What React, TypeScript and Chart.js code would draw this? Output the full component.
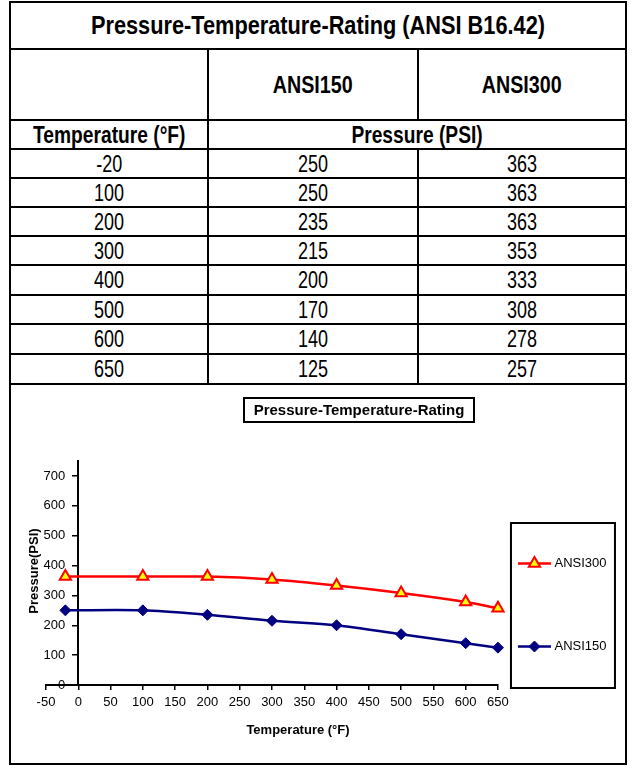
import React, { useEffect, useRef } from 'react';
import { Chart, registerables } from 'chart.js';
import { drawPoint } from 'chart.js/helpers';

Chart.register(...registerables);

// ---- data ----
const TEMPERATURES = [-20, 100, 200, 300, 400, 500, 600, 650];
const ANSI150 = [250, 250, 235, 215, 200, 170, 140, 125];
const ANSI300 = [363, 363, 363, 353, 333, 308, 278, 257];
const SERIES_NAMES = ['ANSI150', 'ANSI300'];
const TABLE_TITLE = 'Pressure-Temperature-Rating (ANSI B16.42)';
const TEMP_HEADER = 'Temperature (°F)';
const PRESSURE_HEADER = 'Pressure (PSI)';
const CHART_TITLE = 'Pressure-Temperature-Rating';
const X_TITLE = 'Temperature (°F)';
const Y_TITLE = 'Pressure(PSI)';
const X_MIN = -50;
const X_MAX = 650;
const X_STEP = 50;
const Y_MIN = 0;
const Y_MAX = 750;
const Y_LABEL_MAX = 700;
const Y_STEP = 100;

const SANS = "'Liberation Sans', Arial, Helvetica, sans-serif";

const legendDecor = {
  id: 'legendDecor',
  afterDraw(chart: any) {
    const lg = chart.legend;
    if (!lg || !lg.legendHitBoxes || !lg.legendHitBoxes.length) return;
    const ctx = chart.ctx;
    const hb = lg.legendHitBoxes;
    const x0 = lg.left;
    ctx.save();
    lg.legendItems.forEach((item: any, i: number) => {
      const box = hb[i];
      const ds = chart.data.datasets[item.datasetIndex];
      const cy = box.top + box.height / 2;
      ctx.strokeStyle = ds.borderColor;
      ctx.lineWidth = ds.borderWidth;
      ctx.beginPath();
      ctx.moveTo(x0 + 20, cy);
      ctx.lineTo(x0 + 53, cy);
      ctx.stroke();
      ctx.fillStyle = ds.pointBackgroundColor;
      ctx.strokeStyle = ds.pointBorderColor;
      ctx.lineWidth = ds.pointBorderWidth;
      drawPoint(ctx, { pointStyle: ds.pointStyle, radius: ds.pointRadius, rotation: 0, borderWidth: ds.pointBorderWidth }, x0 + 36.5, cy);
    });
    const first = hb[0];
    ctx.strokeStyle = '#000';
    ctx.lineWidth = 2;
    ctx.strokeRect(x0 + 13, first.top + 4, 104, 165);
    ctx.restore();
  },
};

function ChartBlock() {
  const canvasRef = useRef<HTMLCanvasElement>(null);
  useEffect(() => {
    if (!canvasRef.current) return;
    const chart = new Chart(canvasRef.current, {
      type: 'line',
      data: {
        datasets: [
          {
            label: SERIES_NAMES[0],
            data: TEMPERATURES.map((t, i) => ({ x: t, y: ANSI150[i] })),
            borderColor: '#000080',
            backgroundColor: '#000080',
            borderWidth: 2.5,
            pointStyle: 'rectRot',
            pointRadius: 5.5,
            pointBackgroundColor: '#000080',
            pointBorderColor: '#000080',
            pointBorderWidth: 1,
            tension: 0.3,
            yAxisID: 'y',
            xAxisID: 'x',
          },
          {
            label: SERIES_NAMES[1],
            data: TEMPERATURES.map((t, i) => ({ x: t, y: ANSI300[i] })),
            borderColor: '#FF0000',
            backgroundColor: '#FFFF00',
            borderWidth: 2.5,
            pointStyle: 'triangle',
            pointRadius: 6.5,
            pointBackgroundColor: '#FFFF00',
            pointBorderColor: '#FF0000',
            pointBorderWidth: 2,
            tension: 0.3,
            yAxisID: 'y',
            xAxisID: 'x',
          },
        ],
      },
      options: {
        animation: false,
        responsive: false,
        maintainAspectRatio: false,
        clip: false as any,
        font: { family: SANS },
        layout: { padding: { left: 35, right: 8.5, top: 76, bottom: 47.4 } },
        plugins: {
          title: { display: false },
          tooltip: { enabled: false },
          legend: {
            display: true,
            position: 'right',
            align: 'end',
            fullSize: false,
            reverse: true,
            labels: {
              color: '#000',
              font: { family: SANS, size: 13 },
              boxWidth: 56,
              boxHeight: 89,
              padding: -6,
              generateLabels: (c: any) =>
                (Chart.defaults.plugins.legend.labels as any).generateLabels(c).map((l: any) => ({
                  ...l,
                  fillStyle: 'rgba(0,0,0,0)',
                  strokeStyle: 'rgba(0,0,0,0)',
                  lineWidth: 0,
                })),
            },
          },
        },
        scales: {
          x: {
            type: 'linear',
            position: 'bottom',
            min: X_MIN,
            max: X_MAX,
            ticks: { stepSize: X_STEP, color: '#000', font: { family: SANS, size: 13 }, autoSkip: false, maxRotation: 0, padding: 5 },
            grid: { display: true, drawOnChartArea: false, tickLength: 5, color: '#000', lineWidth: 1.5 },
            border: { display: true, color: '#000', width: 2 },
            title: { display: false },
          },
          y: {
            type: 'linear',
            position: { x: 0 } as any,
            min: Y_MIN,
            max: Y_MAX,
            afterBuildTicks: (s: any) => {
              s.ticks = s.ticks.filter((t: any) => t.value <= Y_LABEL_MAX);
            },
            ticks: {
              stepSize: Y_STEP,
              color: '#000',
              font: { family: SANS, size: 13 },
              callback: (v: any) => `${v}\u2002\u2002`,
            },
            grid: { display: true, drawOnChartArea: false, tickLength: 5, color: '#000', lineWidth: 1.5 },
            border: { display: true, color: '#000', width: 2 },
          },
        },
      } as any,
      plugins: [legendDecor],
    });
    return () => chart.destroy();
  }, []);
  return <canvas ref={canvasRef} width={614} height={378} style={{ display: 'block', width: 614, height: 378 }} />;
}

const ROW_HEIGHTS = [29, 29, 29, 29, 30, 29, 30, 30];
const COL_W = [198, 210, 206];

function Scaled({ text, sx }: { text: string; sx: number }) {
  return <span style={{ display: 'inline-block', transform: `scaleX(${sx})` }}>{text}</span>;
}

function Row({ h, cells, bold, size, sx }: { h: number; cells: { text: string; w: number }[]; bold?: boolean; size: number; sx: number }) {
  return (
    <div style={{ display: 'flex', height: h, borderBottom: '2px solid #000', boxSizing: 'border-box' }}>
      {cells.map((c, i) => (
        <div
          key={i}
          style={{
            width: c.w,
            boxSizing: 'border-box',
            borderRight: i < cells.length - 1 ? '2px solid #000' : 'none',
            textAlign: 'center',
            lineHeight: `${h - 2}px`,
            fontWeight: bold ? 'bold' : 'normal',
            fontSize: size,
            whiteSpace: 'nowrap',
          }}
        >
          <Scaled text={c.text} sx={sx} />
        </div>
      ))}
    </div>
  );
}

export default function App() {
  return (
    <div
      style={{
        position: 'absolute',
        left: 9,
        top: 1,
        width: 618,
        height: 764,
        border: '2px solid #000',
        boxSizing: 'border-box',
        background: '#fff',
        fontFamily: SANS,
        color: '#000',
      }}
    >
      <div style={{ height: 47, borderBottom: '2px solid #000', boxSizing: 'border-box', textAlign: 'center', lineHeight: '45px', fontWeight: 'bold', fontSize: 25, whiteSpace: 'nowrap' }}>
        <Scaled text={TABLE_TITLE} sx={0.87} />
      </div>
      <Row h={71} bold size={24} sx={0.82} cells={[{ text: '', w: COL_W[0] }, { text: SERIES_NAMES[0], w: COL_W[1] }, { text: SERIES_NAMES[1], w: COL_W[2] }]} />
      <Row h={29} bold size={24} sx={0.8} cells={[{ text: TEMP_HEADER, w: COL_W[0] }, { text: PRESSURE_HEADER, w: COL_W[1] + COL_W[2] }]} />
      {TEMPERATURES.map((t, i) => (
        <Row
          key={t}
          h={ROW_HEIGHTS[i]}
          size={24}
          sx={0.75}
          cells={[
            { text: String(t), w: COL_W[0] },
            { text: String(ANSI150[i]), w: COL_W[1] },
            { text: String(ANSI300[i]), w: COL_W[2] },
          ]}
        />
      ))}
      <div style={{ position: 'relative', height: 378 }}>
        <ChartBlock />
        <div
          style={{
            position: 'absolute',
            left: 232,
            top: 12,
            width: 232,
            height: 26,
            border: '2px solid #000',
            boxSizing: 'border-box',
            fontFamily: SANS,
            fontWeight: 'bold',
            fontSize: 15,
            lineHeight: '22px',
            textAlign: 'center',
            whiteSpace: 'nowrap',
          }}
        >
          {CHART_TITLE}
        </div>
        <div
          style={{
            position: 'absolute',
            left: 23 - 60,
            top: 186 - 8,
            width: 120,
            height: 16,
            lineHeight: '16px',
            transform: 'rotate(-90deg)',
            fontFamily: SANS,
            fontWeight: 'bold',
            fontSize: 13,
            textAlign: 'center',
            whiteSpace: 'nowrap',
          }}
        >
          {Y_TITLE}
        </div>
        <div
          style={{
            position: 'absolute',
            left: 287 - 80,
            top: 345 - 8,
            width: 160,
            height: 16,
            lineHeight: '16px',
            fontFamily: SANS,
            fontWeight: 'bold',
            fontSize: 13,
            textAlign: 'center',
            whiteSpace: 'nowrap',
          }}
        >
          {X_TITLE}
        </div>
      </div>
    </div>
  );
}
